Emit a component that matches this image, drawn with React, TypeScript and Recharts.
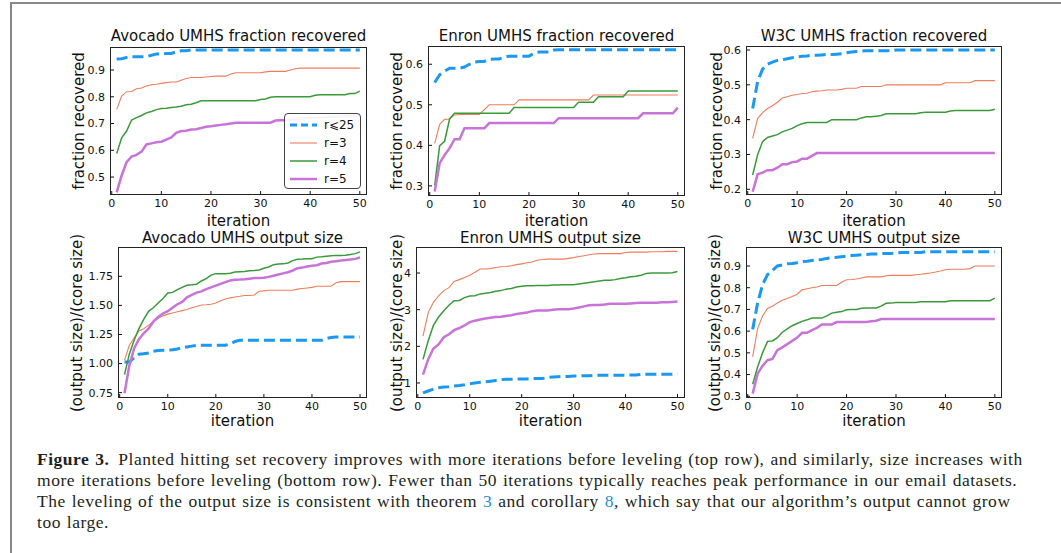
import { LineChart, Line, XAxis, YAxis } from 'recharts';

// iteration numbers (x values shared by all six panels)
const iterations = [
  1, 2, 3, 4, 5, 6, 7, 8, 9, 10, 11, 12, 13, 14, 15, 16, 17, 18, 19, 20, 21, 22, 23, 24, 25,
  26, 27, 28, 29, 30, 31, 32, 33, 34, 35, 36, 37, 38, 39, 40, 41, 42, 43, 44, 45, 46, 47, 48, 49, 50,
];
const xTicks = [0, 10, 20, 30, 40, 50];

// Avocado, fraction recovered
const avocadoFracR25 = [
  0.941, 0.942, 0.947, 0.95, 0.95, 0.95, 0.95, 0.955, 0.96, 0.96, 0.962, 0.962, 0.968, 0.972, 0.972,
  0.975, 0.975, 0.975, 0.975, 0.975, 0.975, 0.975, 0.975, 0.975, 0.975, 0.975, 0.975, 0.975, 0.975, 0.975,
  0.975, 0.975, 0.975, 0.975, 0.975, 0.975, 0.975, 0.975, 0.975, 0.975, 0.975, 0.975, 0.975, 0.975, 0.975,
  0.975, 0.975, 0.975, 0.975, 0.975,
];
const avocadoFracR3 = [
  0.753, 0.803, 0.819, 0.82, 0.83, 0.833, 0.84, 0.845, 0.847, 0.85, 0.853, 0.855, 0.855, 0.862, 0.868,
  0.872, 0.872, 0.872, 0.874, 0.876, 0.877, 0.877, 0.877, 0.885, 0.89, 0.89, 0.89, 0.89, 0.89, 0.89,
  0.893, 0.895, 0.895, 0.895, 0.895, 0.9, 0.905, 0.907, 0.907, 0.907, 0.907, 0.907, 0.907, 0.907, 0.907,
  0.907, 0.907, 0.907, 0.907, 0.907,
];
const avocadoFracR4 = [
  0.588, 0.647, 0.672, 0.713, 0.722, 0.73, 0.74, 0.745, 0.752, 0.756, 0.757, 0.76, 0.762, 0.765, 0.77,
  0.772, 0.778, 0.785, 0.785, 0.785, 0.785, 0.785, 0.785, 0.785, 0.785, 0.785, 0.785, 0.785, 0.785, 0.79,
  0.792, 0.798, 0.8, 0.8, 0.8, 0.8, 0.8, 0.8, 0.8, 0.8, 0.806, 0.808, 0.808, 0.808, 0.808,
  0.808, 0.808, 0.812, 0.812, 0.821,
];
const avocadoFracR5 = [
  0.443, 0.506, 0.556, 0.577, 0.583, 0.595, 0.622, 0.626, 0.63, 0.632, 0.64, 0.648, 0.665, 0.672, 0.673,
  0.678, 0.679, 0.683, 0.688, 0.69, 0.693, 0.695, 0.697, 0.7, 0.703, 0.703, 0.703, 0.703, 0.703, 0.703,
  0.703, 0.703, 0.711, 0.712, 0.712, 0.715, 0.715, 0.718, 0.72, 0.72, 0.722, 0.722, 0.723, 0.725, 0.725,
  0.726, 0.728, 0.728, 0.73, 0.732,
];

// Enron, fraction recovered
const enronFracR25 = [
  0.555, 0.574, 0.583, 0.59, 0.59, 0.59, 0.593, 0.6, 0.605, 0.607, 0.607, 0.612, 0.613, 0.613, 0.617,
  0.62, 0.62, 0.62, 0.62, 0.62, 0.627, 0.63, 0.63, 0.63, 0.635, 0.636, 0.636, 0.636, 0.636, 0.636,
  0.636, 0.636, 0.636, 0.636, 0.636, 0.636, 0.636, 0.636, 0.636, 0.636, 0.636, 0.636, 0.636, 0.636, 0.636,
  0.636, 0.636, 0.636, 0.636, 0.636,
];
const enronFracR3 = [
  0.405, 0.452, 0.464, 0.465, 0.475, 0.476, 0.476, 0.476, 0.476, 0.476, 0.488, 0.5, 0.5, 0.5, 0.5,
  0.5, 0.5, 0.512, 0.512, 0.512, 0.512, 0.512, 0.512, 0.512, 0.512, 0.512, 0.512, 0.512, 0.512, 0.512,
  0.512, 0.512, 0.524, 0.524, 0.524, 0.524, 0.524, 0.524, 0.524, 0.524, 0.524, 0.524, 0.524, 0.524, 0.524,
  0.524, 0.524, 0.524, 0.524, 0.524,
];
const enronFracR4 = [
  0.301, 0.399, 0.41, 0.465, 0.479, 0.479, 0.479, 0.479, 0.479, 0.479, 0.479, 0.479, 0.479, 0.479, 0.479,
  0.479, 0.493, 0.493, 0.493, 0.493, 0.493, 0.493, 0.493, 0.493, 0.493, 0.493, 0.493, 0.493, 0.493, 0.506,
  0.506, 0.506, 0.506, 0.52, 0.52, 0.52, 0.52, 0.52, 0.52, 0.534, 0.534, 0.534, 0.534, 0.534, 0.534,
  0.534, 0.534, 0.534, 0.534, 0.534,
];
const enronFracR5 = [
  0.286, 0.356, 0.376, 0.393, 0.415, 0.415, 0.442, 0.442, 0.442, 0.442, 0.442, 0.455, 0.455, 0.455, 0.455,
  0.455, 0.455, 0.455, 0.455, 0.455, 0.455, 0.455, 0.455, 0.455, 0.455, 0.467, 0.467, 0.467, 0.467, 0.467,
  0.467, 0.467, 0.467, 0.467, 0.467, 0.467, 0.467, 0.467, 0.467, 0.467, 0.467, 0.467, 0.479, 0.479, 0.479,
  0.479, 0.479, 0.479, 0.479, 0.493,
];

// W3C, fraction recovered
const w3cFracR25 = [
  0.432, 0.509, 0.545, 0.559, 0.565, 0.57, 0.572, 0.575, 0.578, 0.58, 0.582, 0.583, 0.585, 0.585, 0.586,
  0.587, 0.587, 0.588, 0.589, 0.592, 0.594, 0.596, 0.597, 0.598, 0.598, 0.598, 0.598, 0.598, 0.598, 0.6,
  0.6, 0.6, 0.6, 0.6, 0.6, 0.6, 0.6, 0.6, 0.6, 0.6, 0.6, 0.6, 0.6, 0.6, 0.6,
  0.6, 0.6, 0.6, 0.6, 0.6,
];
const w3cFracR3 = [
  0.346, 0.403, 0.42, 0.432, 0.44, 0.45, 0.462, 0.466, 0.47, 0.472, 0.475, 0.476, 0.48, 0.482, 0.483,
  0.485, 0.485, 0.485, 0.487, 0.49, 0.49, 0.49, 0.495, 0.495, 0.495, 0.495, 0.495, 0.5, 0.5, 0.5,
  0.5, 0.5, 0.5, 0.5, 0.5, 0.5, 0.5, 0.5, 0.5, 0.506, 0.506, 0.506, 0.506, 0.506, 0.506,
  0.512, 0.512, 0.512, 0.512, 0.512,
];
const w3cFracR4 = [
  0.241, 0.299, 0.337, 0.349, 0.353, 0.357, 0.365, 0.37, 0.375, 0.383, 0.388, 0.392, 0.392, 0.392, 0.392,
  0.392, 0.4, 0.4, 0.4, 0.4, 0.4, 0.4, 0.405, 0.408, 0.408, 0.41, 0.412, 0.417, 0.417, 0.417,
  0.417, 0.417, 0.417, 0.417, 0.42, 0.421, 0.421, 0.421, 0.421, 0.421, 0.425, 0.426, 0.426, 0.426, 0.426,
  0.426, 0.426, 0.426, 0.426, 0.43,
];
const w3cFracR5 = [
  0.193, 0.243, 0.248, 0.255, 0.255, 0.262, 0.272, 0.272, 0.278, 0.28, 0.288, 0.288, 0.296, 0.304, 0.304,
  0.304, 0.304, 0.304, 0.304, 0.304, 0.304, 0.304, 0.304, 0.304, 0.304, 0.304, 0.304, 0.304, 0.304, 0.304,
  0.304, 0.304, 0.304, 0.304, 0.304, 0.304, 0.304, 0.304, 0.304, 0.304, 0.304, 0.304, 0.304, 0.304, 0.304,
  0.304, 0.304, 0.304, 0.304, 0.304,
];

// Avocado, output size / core size
const avocadoSizeR25 = [
  1.014, 1.014, 1.05, 1.08, 1.085, 1.09, 1.105, 1.112, 1.114, 1.115, 1.118, 1.125, 1.14, 1.143, 1.15,
  1.157, 1.157, 1.157, 1.157, 1.157, 1.157, 1.157, 1.17, 1.19, 1.2, 1.2, 1.2, 1.2, 1.2, 1.2,
  1.2, 1.2, 1.2, 1.2, 1.2, 1.2, 1.2, 1.2, 1.2, 1.2, 1.2, 1.2, 1.215, 1.225, 1.229,
  1.229, 1.229, 1.229, 1.229, 1.229,
];
const avocadoSizeR3 = [
  1.028, 1.157, 1.22, 1.28, 1.3, 1.33, 1.36, 1.39, 1.41, 1.425, 1.435, 1.445, 1.455, 1.465, 1.48,
  1.49, 1.503, 1.505, 1.51, 1.52, 1.54, 1.555, 1.565, 1.572, 1.578, 1.585, 1.585, 1.59, 1.622, 1.625,
  1.63, 1.63, 1.63, 1.63, 1.63, 1.63, 1.64, 1.645, 1.65, 1.655, 1.664, 1.665, 1.665, 1.665, 1.695,
  1.704, 1.704, 1.704, 1.704, 1.704,
];
const avocadoSizeR4 = [
  0.905, 1.08, 1.2, 1.3, 1.38, 1.449, 1.48, 1.52, 1.56, 1.607, 1.612, 1.635, 1.655, 1.673, 1.677,
  1.682, 1.71, 1.73, 1.76, 1.773, 1.773, 1.773, 1.777, 1.787, 1.79, 1.792, 1.797, 1.8, 1.805, 1.82,
  1.83, 1.85, 1.855, 1.857, 1.865, 1.885, 1.897, 1.898, 1.9, 1.902, 1.915, 1.918, 1.922, 1.926, 1.93,
  1.93, 1.932, 1.938, 1.945, 1.96,
];
const avocadoSizeR5 = [
  0.745, 0.98, 1.13, 1.21, 1.26, 1.3, 1.36, 1.4, 1.43, 1.45, 1.48, 1.51, 1.53, 1.57, 1.59,
  1.61, 1.62, 1.64, 1.655, 1.67, 1.685, 1.7, 1.715, 1.72, 1.722, 1.725, 1.73, 1.735, 1.735, 1.737,
  1.745, 1.755, 1.765, 1.775, 1.785, 1.8, 1.82, 1.825, 1.835, 1.84, 1.845, 1.86, 1.865, 1.875, 1.88,
  1.885, 1.89, 1.895, 1.9, 1.912,
];

// Enron, output size / core size
const enronSizeR25 = [
  0.73, 0.78, 0.83, 0.87, 0.89, 0.9, 0.92, 0.93, 0.95, 0.98, 1.0, 1.02, 1.03, 1.05, 1.07,
  1.09, 1.1, 1.1, 1.11, 1.11, 1.11, 1.12, 1.12, 1.12, 1.15, 1.16, 1.17, 1.18, 1.18, 1.19,
  1.19, 1.2, 1.2, 1.21, 1.21, 1.21, 1.21, 1.21, 1.21, 1.21, 1.22, 1.22, 1.23, 1.24, 1.24,
  1.24, 1.24, 1.24, 1.24, 1.25,
];
const enronSizeR3 = [
  2.28, 2.92, 3.2, 3.38, 3.52, 3.6, 3.77, 3.82, 3.88, 3.94, 4.02, 4.11, 4.11, 4.12, 4.15,
  4.17, 4.18, 4.2, 4.23, 4.25, 4.28, 4.3, 4.35, 4.37, 4.38, 4.38, 4.38, 4.38, 4.4, 4.42,
  4.45, 4.47, 4.5, 4.52, 4.53, 4.53, 4.53, 4.53, 4.53, 4.56, 4.57, 4.57, 4.57, 4.57, 4.58,
  4.58, 4.58, 4.59, 4.59, 4.59,
];
const enronSizeR4 = [
  1.645, 2.15, 2.57, 2.8, 2.97, 3.12, 3.245, 3.25, 3.33, 3.37, 3.38, 3.43, 3.45, 3.47, 3.5,
  3.52, 3.56, 3.58, 3.62, 3.64, 3.65, 3.65, 3.66, 3.66, 3.66, 3.67, 3.67, 3.68, 3.68, 3.68,
  3.7, 3.72, 3.74, 3.76, 3.78, 3.8, 3.8, 3.82, 3.85, 3.87, 3.9, 3.91, 3.94, 3.99, 4.0,
  4.0, 4.0, 4.0, 4.01, 4.04,
];
const enronSizeR5 = [
  1.227, 1.65, 1.94, 2.05, 2.25, 2.33, 2.44, 2.5, 2.57, 2.66, 2.7, 2.73, 2.76, 2.78, 2.8,
  2.81, 2.83, 2.85, 2.88, 2.9, 2.92, 2.96, 2.98, 2.98, 2.98, 3.0, 3.01, 3.01, 3.01, 3.03,
  3.06, 3.09, 3.12, 3.13, 3.13, 3.14, 3.16, 3.16, 3.16, 3.16, 3.17, 3.18, 3.19, 3.19, 3.19,
  3.19, 3.2, 3.2, 3.21, 3.22,
];

// W3C, output size / core size
const w3cSizeR25 = [
  0.608, 0.73, 0.814, 0.86, 0.88, 0.9, 0.905, 0.91, 0.912, 0.915, 0.92, 0.922, 0.925, 0.928, 0.93,
  0.935, 0.938, 0.94, 0.943, 0.945, 0.948, 0.95, 0.952, 0.953, 0.955, 0.955, 0.957, 0.958, 0.958, 0.96,
  0.962, 0.962, 0.962, 0.962, 0.962, 0.966, 0.966, 0.966, 0.966, 0.966, 0.966, 0.966, 0.966, 0.966, 0.966,
  0.966, 0.966, 0.966, 0.966, 0.966,
];
const w3cSizeR3 = [
  0.481, 0.612, 0.67, 0.704, 0.715, 0.73, 0.742, 0.75, 0.76, 0.77, 0.79, 0.795, 0.8, 0.803, 0.81,
  0.81, 0.81, 0.81, 0.825, 0.837, 0.838, 0.84, 0.845, 0.85, 0.85, 0.85, 0.85, 0.855, 0.857, 0.857,
  0.857, 0.857, 0.857, 0.86, 0.862, 0.865, 0.868, 0.872, 0.877, 0.883, 0.885, 0.885, 0.885, 0.885, 0.888,
  0.9, 0.9, 0.9, 0.9, 0.9,
];
const w3cSizeR4 = [
  0.355, 0.435, 0.5, 0.553, 0.555, 0.57, 0.595, 0.61, 0.625, 0.635, 0.645, 0.652, 0.66, 0.66, 0.66,
  0.67, 0.683, 0.687, 0.69, 0.698, 0.7, 0.7, 0.705, 0.707, 0.707, 0.707, 0.715, 0.728, 0.729, 0.732,
  0.732, 0.732, 0.732, 0.732, 0.735, 0.735, 0.735, 0.735, 0.735, 0.735, 0.74, 0.74, 0.74, 0.74, 0.74,
  0.74, 0.74, 0.74, 0.74, 0.752,
];
const w3cSizeR5 = [
  0.312, 0.404, 0.44, 0.466, 0.472, 0.512, 0.525, 0.54, 0.555, 0.57, 0.592, 0.592, 0.605, 0.615, 0.631,
  0.631, 0.631, 0.642, 0.642, 0.642, 0.642, 0.642, 0.642, 0.642, 0.645, 0.648, 0.656, 0.656, 0.656, 0.656,
  0.656, 0.656, 0.656, 0.656, 0.656, 0.656, 0.656, 0.656, 0.656, 0.656, 0.656, 0.656, 0.656, 0.656, 0.656,
  0.656, 0.656, 0.656, 0.656, 0.656,
];

const FONT = '"DejaVu Sans", sans-serif';
const COLORS = { r25: '#1b98f0', r3: '#ef7d5a', r4: '#3a9a3a', r5: '#c873d8' };
const X_DOMAIN: [number, number] = [-0.35, 51.45];
const Y_AXIS_W = 50;
const X_AXIS_H = 24;
const PAD_TOP = 10; // room above the plot so the top tick label is not clipped

interface Series {
  r25: number[];
  r3: number[];
  r4: number[];
  r5: number[];
}

interface PanelProps {
  title: string;
  ylabel: string;
  series: Series;
  left: number;
  top: number;
  right: number;
  bottom: number;
  yDomain: [number, number];
  yTicks: number[];
  digits: number;
  ylabelX: number;
  titleY: number;
  xlabelY: number;
}

function Panel(p: PanelProps) {
  const w = p.right - p.left;
  const h = p.bottom - p.top;
  const rows = iterations.map((it, i) => ({
    it,
    r25: p.series.r25[i],
    r3: p.series.r3[i],
    r4: p.series.r4[i],
    r5: p.series.r5[i],
  }));
  const tick = { fontFamily: FONT, fontSize: 11, fill: '#111' };
  const cx = (p.left + p.right) / 2;
  const text = { fontFamily: FONT, fontSize: 15, lineHeight: 1, whiteSpace: 'nowrap' as const, color: '#111' };

  return (
    <>
      <div style={{ position: 'absolute', left: p.left - Y_AXIS_W, top: p.top - PAD_TOP }}>
        <LineChart
          width={w + Y_AXIS_W}
          height={h + X_AXIS_H + PAD_TOP}
          data={rows}
          margin={{ top: PAD_TOP, right: 0, bottom: 0, left: 0 }}
        >
          <XAxis
            dataKey="it"
            type="number"
            domain={X_DOMAIN}
            ticks={xTicks}
            interval={0}
            allowDataOverflow
            height={X_AXIS_H}
            tick={tick}
            tickSize={-4}
            tickMargin={8}
            axisLine={false}
            stroke="#111"
          />
          <YAxis
            type="number"
            domain={p.yDomain}
            ticks={p.yTicks}
            interval={0}
            allowDataOverflow
            width={Y_AXIS_W}
            tick={tick}
            tickSize={-4}
            tickMargin={9}
            axisLine={false}
            stroke="#111"
            tickFormatter={(v: number) => v.toFixed(p.digits)}
          />
          <Line dataKey="r25" type="linear" stroke={COLORS.r25} strokeWidth={3} strokeDasharray="11 5" dot={false} isAnimationActive={false} />
          <Line dataKey="r3" type="linear" stroke={COLORS.r3} strokeWidth={1.1} dot={false} isAnimationActive={false} />
          <Line dataKey="r4" type="linear" stroke={COLORS.r4} strokeWidth={1.5} dot={false} isAnimationActive={false} />
          <Line dataKey="r5" type="linear" stroke={COLORS.r5} strokeWidth={2.5} dot={false} isAnimationActive={false} />
        </LineChart>
      </div>
      <div
        style={{
          position: 'absolute',
          left: p.left,
          top: p.top,
          width: w,
          height: h,
          border: '1px solid #222',
          boxSizing: 'border-box',
          pointerEvents: 'none',
        }}
      />
      <div style={{ ...text, position: 'absolute', left: cx, top: p.titleY, transform: 'translate(-50%, -50%)' }}>
        {p.title}
      </div>
      <div style={{ ...text, position: 'absolute', left: cx, top: p.xlabelY, transform: 'translate(-50%, -50%)' }}>
        iteration
      </div>
      <div
        style={{
          ...text,
          position: 'absolute',
          left: p.ylabelX,
          top: (p.top + p.bottom) / 2,
          transform: 'translate(-50%, -50%) rotate(-90deg)',
        }}
      >
        {p.ylabel}
      </div>
    </>
  );
}

const legendItems = [
  { label: 'r⩽25', color: COLORS.r25, width: 3, dash: '7 4' },
  { label: 'r=3', color: COLORS.r3, width: 1.1, dash: undefined },
  { label: 'r=4', color: COLORS.r4, width: 1.5, dash: undefined },
  { label: 'r=5', color: COLORS.r5, width: 2.5, dash: undefined },
];

function Legend() {
  return (
    <div
      style={{
        position: 'absolute',
        left: 284,
        top: 113,
        width: 77,
        height: 76,
        boxSizing: 'border-box',
        border: '1px solid #444',
        borderRadius: 4,
        background: 'rgba(255,255,255,0.9)',
      }}
    >
      {legendItems.map((it, i) => (
        <div key={it.label} style={{ position: 'absolute', left: 4, top: 3.5 + i * 18.2, height: 14, display: 'flex', alignItems: 'center' }}>
          <svg width={29} height={14}>
            <line x1={1} y1={7} x2={28} y2={7} stroke={it.color} strokeWidth={it.width} strokeDasharray={it.dash} />
          </svg>
          <span style={{ marginLeft: 6, fontFamily: FONT, fontSize: 12, color: '#111', lineHeight: 1 }}>{it.label}</span>
        </div>
      ))}
    </div>
  );
}

export default function App() {
  const link = { color: '#1f8fd6' };
  return (
    <div style={{ position: 'absolute', left: 0, top: 0, width: 1061, height: 553, background: '#fff', overflow: 'hidden' }}>
      <div style={{ position: 'absolute', left: 10, top: 2, width: 1060, height: 560, borderTop: '2px solid #888', borderLeft: '2px solid #888' }} />

      <Panel
        title="Avocado UMHS fraction recovered"
        ylabel="fraction recovered"
        series={{ r25: avocadoFracR25, r3: avocadoFracR3, r4: avocadoFracR4, r5: avocadoFracR5 }}
        left={110} top={47} right={367} bottom={195}
        yDomain={[0.433, 0.986]}
        yTicks={[0.5, 0.6, 0.7, 0.8, 0.9]}
        digits={1}
        ylabelX={78.5}
        titleY={36}
        xlabelY={221}
      />
      <Panel
        title="Enron UMHS fraction recovered"
        ylabel="fraction recovered"
        series={{ r25: enronFracR25, r3: enronFracR3, r4: enronFracR4, r5: enronFracR5 }}
        left={428} top={46} right={685} bottom={196}
        yDomain={[0.275, 0.645]}
        yTicks={[0.3, 0.4, 0.5, 0.6]}
        digits={1}
        ylabelX={397}
        titleY={36}
        xlabelY={221}
      />
      <Panel
        title="W3C UMHS fraction recovered"
        ylabel="fraction recovered"
        series={{ r25: w3cFracR25, r3: w3cFracR3, r4: w3cFracR4, r5: w3cFracR5 }}
        left={746} top={46} right={1002} bottom={195}
        yDomain={[0.1836, 0.6115]}
        yTicks={[0.2, 0.3, 0.4, 0.5, 0.6]}
        digits={1}
        ylabelX={716.5}
        titleY={36}
        xlabelY={221}
      />
      <Panel
        title="Avocado UMHS output size"
        ylabel="(output size)/(core size)"
        series={{ r25: avocadoSizeR25, r3: avocadoSizeR3, r4: avocadoSizeR4, r5: avocadoSizeR5 }}
        left={118} top={247} right={367} bottom={398}
        yDomain={[0.704, 2.002]}
        yTicks={[0.75, 1.0, 1.25, 1.5, 1.75]}
        digits={2}
        ylabelX={77}
        titleY={237.5}
        xlabelY={421}
      />
      <Panel
        title="Enron UMHS output size"
        ylabel="(output size)/(core size)"
        series={{ r25: enronSizeR25, r3: enronSizeR3, r4: enronSizeR4, r5: enronSizeR5 }}
        left={416} top={247} right={685} bottom={398}
        yDomain={[0.59, 4.71]}
        yTicks={[1, 2, 3, 4]}
        digits={0}
        ylabelX={396.5}
        titleY={237.5}
        xlabelY={421}
      />
      <Panel
        title="W3C UMHS output size"
        ylabel="(output size)/(core size)"
        series={{ r25: w3cSizeR25, r3: w3cSizeR3, r4: w3cSizeR4, r5: w3cSizeR5 }}
        left={746} top={247} right={1002} bottom={398}
        yDomain={[0.292, 0.9875]}
        yTicks={[0.3, 0.4, 0.5, 0.6, 0.7, 0.8, 0.9]}
        digits={1}
        ylabelX={715}
        titleY={237.5}
        xlabelY={421}
      />

      <Legend />

      <div
        style={{
          position: 'absolute',
          left: 37,
          top: 448.7,
          fontFamily: '"Liberation Serif", serif',
          fontSize: 17.5,
          letterSpacing: 0.52,
          wordSpacing: 1,
          lineHeight: '21px',
          color: '#231f20',
          whiteSpace: 'nowrap',
        }}
      >
        <b style={{ marginRight: 3 }}>Figure 3.</b> Planted hitting set recovery improves with more iterations before leveling (top row), and similarly, size increases with
        <br />
        more iterations before leveling (bottom row). Fewer than 50 iterations typically reaches peak performance in our email datasets.
        <br />
        The leveling of the output size is consistent with theorem <span style={link}>3</span> and corollary <span style={link}>8</span>, which say that our algorithm’s output cannot grow
        <br />
        too large.
      </div>
    </div>
  );
}
